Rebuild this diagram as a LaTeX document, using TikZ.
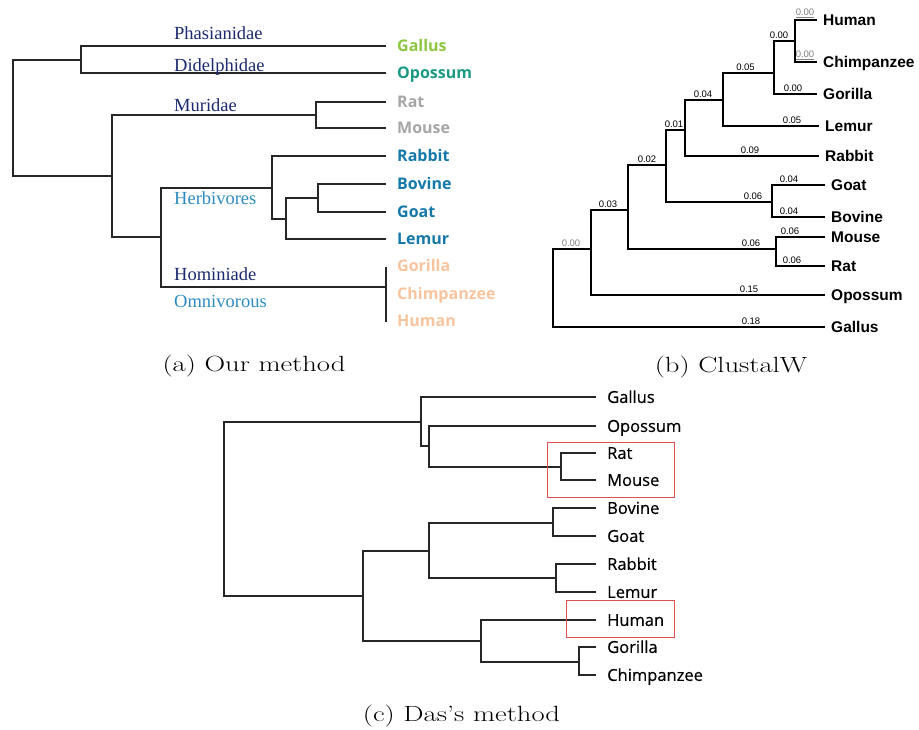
\documentclass[tikz,border=0pt]{standalone}
\usepackage{fontspec}
\newfontfamily\osans{Open Sans}
\newfontfamily\osansc{Open Sans}[FakeBold=0.5]
\newfontfamily\lsans{Liberation Sans}
\newfontfamily\lserif{Liberation Serif}
\definecolor{gallusG}{RGB}{141,198,63}
\definecolor{opossT}{RGB}{26,154,133}
\definecolor{ratG}{RGB}{166,166,166}
\definecolor{herbB}{RGB}{20,120,168}
\definecolor{homP}{RGB}{248,196,158}
\definecolor{navyC}{RGB}{28,42,110}
\definecolor{lblueC}{RGB}{44,140,192}
\definecolor{redboxC}{RGB}{224,80,80}
\begin{document}
\begin{tikzpicture}[x=1pt,y=-1pt,
 treeA/.style={line width=1.6pt,draw=black!85},
 treeB/.style={line width=2.4pt,draw=black},
 treeC/.style={line width=1.5pt,draw=black!85},
 leafA/.style={anchor=west,inner xsep=11pt,inner ysep=0pt,text height=11.4pt,text depth=0pt,font=\fontsize{16}{18}\osans\bfseries},
 leafB/.style={anchor=west,inner xsep=6pt,inner ysep=0pt,text height=11.1pt,text depth=0pt,font=\fontsize{15.5}{18}\lsans\bfseries},
 leafC/.style={anchor=west,inner xsep=11pt,inner ysep=0pt,text height=11.8pt,text depth=0pt,font=\fontsize{16.5}{19}\osansc},
 fam/.style={anchor=base west,inner sep=0pt,font=\fontsize{18.5}{21}\lserif},
 blen/.style={anchor=south,inner sep=0.5pt,font=\fontsize{9.5}{11}\lsans},
 blg/.style={blen,text=black!50},
 capt/.style={anchor=base,inner sep=0pt,xscale=1.3,font=\fontsize{22}{26}\selectfont},
 hbox/.style={draw=redboxC,line width=1pt}
]
\useasboundingbox (0,0) rectangle (919,730);

% ================= (a) Our method =================
\coordinate (aR) at (13,118);
\coordinate (aA) at (81,60);
\coordinate (aB) at (112,176);
\coordinate (aM) at (316,115);
\coordinate (aC) at (161,237);
\coordinate (aH) at (272,188);
\coordinate (aL) at (286,219);
\coordinate (aBG) at (318,198);
\coordinate (aO) at (386,287);
\coordinate (aOt) at (386,267);
\coordinate (aOb) at (386,322);

\node[leafA,text=gallusG] (aGallus) at (386,46) {Gallus};
\node[leafA,text=opossT] (aOpossum) at (386,73) {Opossum};
\node[leafA,text=ratG] (aRat) at (386,102) {Rat};
\node[leafA,text=ratG] (aMouse) at (386,128) {Mouse};
\node[leafA,text=herbB] (aRabbit) at (386,156) {Rabbit};
\node[leafA,text=herbB] (aBovine) at (386,184) {Bovine};
\node[leafA,text=herbB] (aGoat) at (386,212) {Goat};
\node[leafA,text=herbB] (aLemur) at (386,239) {Lemur};
\node[leafA,text=homP] (aGorilla) at (386,266) {Gorilla};
\node[leafA,text=homP] (aChimp) at (386,294) {Chimpanzee};
\node[leafA,text=homP] (aHuman) at (386,321) {Human};

\draw[treeA] (aR) |- (aA);
\draw[treeA] (aR) |- (aB);
\draw[treeA] (aA) |- (aGallus.west);
\draw[treeA] (aA) |- (aOpossum.west);
\draw[treeA] (aB) |- (aM);
\draw[treeA] (aB) |- (aC);
\draw[treeA] (aM) |- (aRat.west);
\draw[treeA] (aM) |- (aMouse.west);
\draw[treeA] (aC) |- (aH);
\draw[treeA] (aC) |- (aO);
\draw[treeA] (aH) |- (aRabbit.west);
\draw[treeA] (aH) |- (aL);
\draw[treeA] (aL) |- (aBG);
\draw[treeA] (aL) |- (aLemur.west);
\draw[treeA] (aBG) |- (aBovine.west);
\draw[treeA] (aBG) |- (aGoat.west);
\draw[treeA] (aOt) -- (aOb);

\node[fam,text=navyC] (fPhas) at (174,40) {Phasianidae};
\node[fam,text=navyC] (fDid) at (174,72) {Didelphidae};
\node[fam,text=navyC] (fMur) at (174,111.5) {Muridae};
\node[fam,text=lblueC] (fHerb) at (174,205) {Herbivores};
\node[fam,text=navyC] (fHom) at (174,281) {Hominiade};
\node[fam,text=lblueC] (fOmn) at (174,308) {Omnivorous};

\node[capt] (capA) at (254,371.5) {(a) Our method};

% ================= (b) ClustalW =================
\coordinate (bR) at (553,290);
\coordinate (bX) at (591,249);
\coordinate (bY) at (628,210);
\coordinate (bMR) at (776,249);
\coordinate (bZ) at (666,165);
\coordinate (bGB) at (772,202);
\coordinate (bW) at (685,130);
\coordinate (bV) at (723,100);
\coordinate (bU) at (774,73);
\coordinate (bT) at (795,41);

\node[leafB] (bHuman) at (817,20) {Human};
\node[leafB] (bChimp) at (817,62) {Chimpanzee};
\node[leafB] (bGorilla) at (817,94) {Gorilla};
\node[leafB] (bLemur) at (819,126) {Lemur};
\node[leafB] (bRabbit) at (819,156) {Rabbit};
\node[leafB] (bGoat) at (825,185) {Goat};
\node[leafB] (bBovine) at (825,217) {Bovine};
\node[leafB] (bMouse) at (825,237) {Mouse};
\node[leafB] (bRat) at (825,266) {Rat};
\node[leafB] (bOpossum) at (825,295) {Opossum};
\node[leafB] (bGallus) at (825,327) {Gallus};

\draw[treeB] (bR) |- (bX);
\draw[treeB] (bR) |- (bGallus.west);
\draw[treeB] (bX) |- (bY);
\draw[treeB] (bX) |- (bOpossum.west);
\draw[treeB] (bY) |- (bZ);
\draw[treeB] (bY) |- (bMR);
\draw[treeB] (bMR) |- (bMouse.west);
\draw[treeB] (bMR) |- (bRat.west);
\draw[treeB] (bZ) |- (bW);
\draw[treeB] (bZ) |- (bGB);
\draw[treeB] (bGB) |- (bGoat.west);
\draw[treeB] (bGB) |- (bBovine.west);
\draw[treeB] (bW) |- (bV);
\draw[treeB] (bW) |- (bRabbit.west);
\draw[treeB] (bV) |- (bU);
\draw[treeB] (bV) |- (bLemur.west);
\draw[treeB] (bU) |- (bT);
\draw[treeB] (bU) |- (bGorilla.west);
\draw[treeB] (bT) |- (bHuman.west);
\draw[treeB] (bT) |- (bChimp.west);

\node[blg] (lHum) at (805,18.6) {\underline{0.00}};
\node[blg] (lChi) at (805,60.6) {\underline{0.00}};
\node[blen] (lT) at (779,39.6) {0.00};
\node[blen] (lGor) at (793,92.6) {0.00};
\node[blen] (lU) at (745.5,71.6) {0.05};
\node[blen] (lLem) at (792,124.6) {0.05};
\node[blen] (lV) at (703,98.6) {0.04};
\node[blen] (lRab) at (750,154.6) {0.09};
\node[blen] (lW) at (674,128.6) {0.01};
\node[blen] (lZ) at (647,163.6) {0.02};
\node[blen] (lGB) at (753,200.6) {0.06};
\node[blen] (lGoa) at (789,183.6) {0.04};
\node[blen] (lBov) at (789,215.6) {0.04};
\node[blen] (lMR) at (751,247.6) {0.06};
\node[blen] (lMou) at (790,235.6) {0.06};
\node[blen] (lRat) at (792,264.6) {0.06};
\node[blen] (lY) at (608,208.6) {0.03};
\node[blen] (lOpo) at (749,293.6) {0.15};
\node[blg] (lX) at (571,247.6) {0.00};
\node[blen] (lGal) at (751,325.6) {0.18};

\node[capt] (capB) at (731,372) {(b) ClustalW};

% ================= (c) Das's method =================
\coordinate (cR) at (224,509);
\coordinate (cA) at (421,422);
\coordinate (cA2) at (429,446);
\coordinate (cMR) at (561,467);
\coordinate (cB) at (363,596);
\coordinate (cC) at (429,551);
\coordinate (cBG) at (553,523);
\coordinate (cRL) at (556,578);
\coordinate (cD) at (481,641);
\coordinate (cGC) at (579,662);

\node[leafC] (cGallus) at (596,397) {Gallus};
\node[leafC] (cOpossum) at (596,426) {Opossum};
\node[leafC] (cRat) at (596,453) {Rat};
\node[leafC] (cMouse) at (596,480) {Mouse};
\node[leafC] (cBovine) at (596,508) {Bovine};
\node[leafC] (cGoat) at (596,536) {Goat};
\node[leafC] (cRabbit) at (596,564) {Rabbit};
\node[leafC] (cLemur) at (596,592) {Lemur};
\node[leafC] (cHuman) at (596,620) {Human};
\node[leafC] (cGorilla) at (596,647) {Gorilla};
\node[leafC] (cChimp) at (596,675) {Chimpanzee};

\draw[treeC] (cR) |- (cA);
\draw[treeC] (cR) |- (cB);
\draw[treeC] (cA) |- (cGallus.west);
\draw[treeC] (cA) |- (cA2);
\draw[treeC] (cA2) |- (cOpossum.west);
\draw[treeC] (cA2) |- (cMR);
\draw[treeC] (cMR) |- (cRat.west);
\draw[treeC] (cMR) |- (cMouse.west);
\draw[treeC] (cB) |- (cC);
\draw[treeC] (cB) |- (cD);
\draw[treeC] (cC) |- (cBG);
\draw[treeC] (cC) |- (cRL);
\draw[treeC] (cBG) |- (cBovine.west);
\draw[treeC] (cBG) |- (cGoat.west);
\draw[treeC] (cRL) |- (cRabbit.west);
\draw[treeC] (cRL) |- (cLemur.west);
\draw[treeC] (cD) |- (cHuman.west);
\draw[treeC] (cD) |- (cGC);
\draw[treeC] (cGC) |- (cGorilla.west);
\draw[treeC] (cGC) |- (cChimp.west);

\draw[hbox] (547,442) rectangle (674,497);
\draw[hbox] (566,600) rectangle (674,637);

\node[capt] (capC) at (461.5,721) {(c) Das's method};
\end{tikzpicture}
\end{document}
